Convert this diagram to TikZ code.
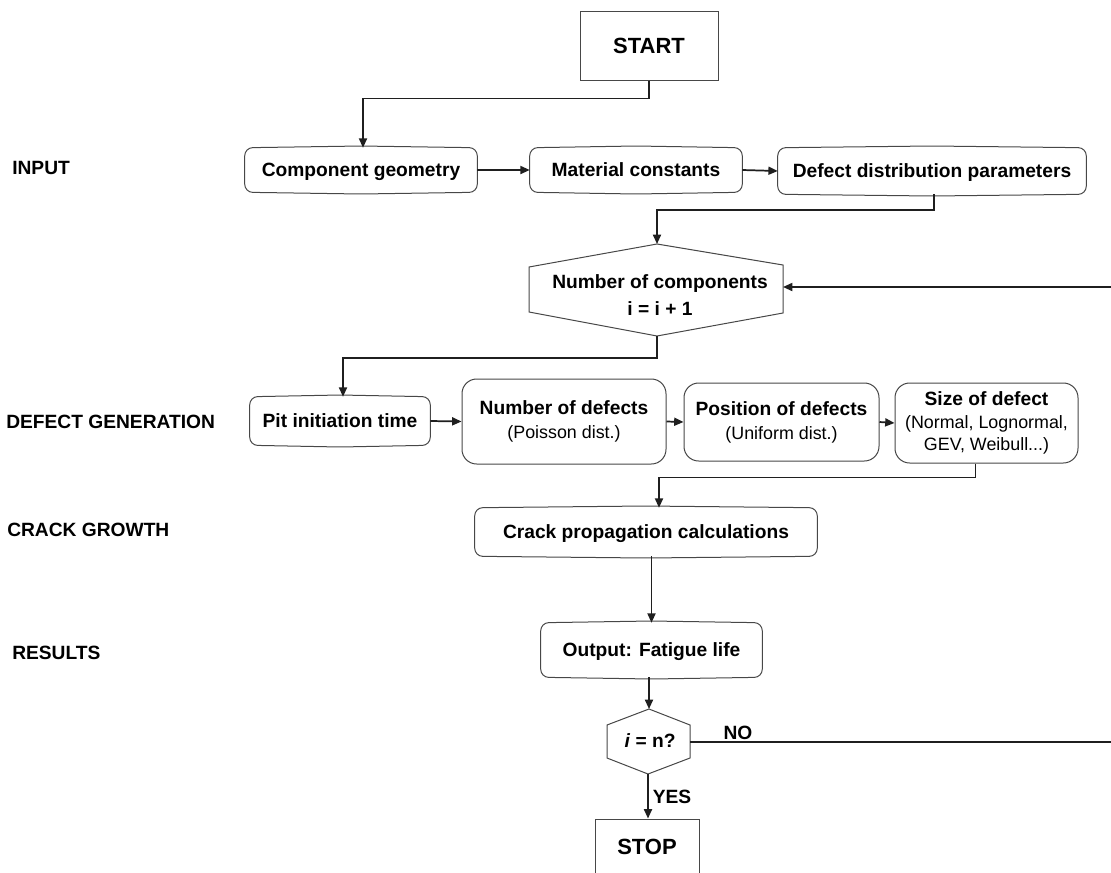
\documentclass[tikz,border=0pt]{standalone}
\usepackage{fontspec}
\setmainfont{Liberation Sans}
\usetikzlibrary{arrows.meta,calc}
\newcommand\capsuleoutline[1]{\draw[boxline, rounded corners=6pt] (#1.west) -- (#1.north west) -- ([yshift=1.3pt]#1.north) -- (#1.north east) -- (#1.south east) -- ([yshift=-1.3pt]#1.south) -- (#1.south west) -- cycle;}
\begin{document}
\begin{tikzpicture}[x=0.75pt,y=-0.75pt,
  every node/.style={inner sep=0pt, font=\fontsize{14.4}{17}\selectfont\bfseries},
  boxline/.style={draw=black!72, line width=0.75pt},
  bigtext/.style={font=\fontsize{16.5}{19}\selectfont\bfseries},
  capt/.style={text height=10.3pt, text depth=0pt},
  arr/.style={-{Triangle[length=7pt,width=6pt]}, line width=1.3pt, draw=black!88},
  lbl/.style={anchor=west}
]
\useasboundingbox (0,0) rectangle (1111,872);

% ---- section labels
\node[lbl] (linput) at (12,168) {INPUT};
\node[lbl] (ldefect) at (6,422) {DEFECT GENERATION};
\node[lbl] (lcrack) at (7,530) {CRACK GROWTH};
\node[lbl] (lresults) at (12,653) {RESULTS};

% ---- start
\node[boxline, bigtext, capt, text height=11.8pt, minimum width=138*0.75pt, minimum height=69*0.75pt] (start) at (649,45.5) {START};

% ---- input row
\node[capt, minimum width=232*0.75pt, minimum height=44*0.75pt] (cg) at (361,170) {Component geometry};
\capsuleoutline{cg}
\node[capt, minimum width=212*0.75pt, minimum height=44*0.75pt] (mc) at (636,170) {Material constants};
\capsuleoutline{mc}
\node[capt, minimum width=308*0.75pt, minimum height=46*0.75pt] (ddp) at (932,171) {Defect distribution parameters};
\capsuleoutline{ddp}

% ---- number of components hexagon
\coordinate (hT) at (657,244);
\coordinate (hUL) at (529,267);
\coordinate (hLL) at (529,312);
\coordinate (hB) at (657,336);
\coordinate (hLR) at (783,313);
\coordinate (hUR) at (783,265);
\coordinate (hR) at (783,287);
\draw[boxline] (hT) -- (hUL) -- (hLL) -- (hB) -- (hLR) -- (hUR) -- cycle;
\node[align=center] (hext) at (660,295) {Number of components\\[3.2pt] i = i + 1};

% ---- defect generation row
\node[capt, minimum width=180*0.75pt, minimum height=48*0.75pt] (pit) at (340,421) {Pit initiation time};
\capsuleoutline{pit}
\node[boxline, rounded corners=11pt, align=center, minimum width=204*0.75pt, minimum height=85*0.75pt] (nod) at (564,421.5)
  {Number of defects\\[1pt] {\fontsize{13.4}{16}\selectfont\mdseries (Poisson dist.)}};
\node[boxline, rounded corners=11pt, align=center, minimum width=195*0.75pt, minimum height=78*0.75pt] (pod) at (781.5,422)
  {Position of defects\\[1pt] {\fontsize{13.4}{16}\selectfont\mdseries (Uniform dist.)}};
\node[boxline, rounded corners=11pt, align=center, minimum width=183*0.75pt, minimum height=80*0.75pt] (sod) at (986.5,423)
  {Size of defect\\ {\fontsize{13.4}{16}\selectfont\mdseries (Normal, Lognormal,}\\ {\fontsize{13.4}{16}\selectfont\mdseries GEV, Weibull...)}};

% ---- crack growth
\node[capt, minimum width=342*0.75pt, minimum height=48*0.75pt] (cp) at (646,532) {Crack propagation calculations};
\capsuleoutline{cp}

% ---- results
\node[capt, minimum width=221*0.75pt, minimum height=54*0.75pt] (out) at (651.5,650) {Output: Fatigue life};
\capsuleoutline{out}

% ---- decision
\coordinate (dT) at (649,709);
\coordinate (dUL) at (607,725);
\coordinate (dLL) at (607,758);
\coordinate (dB) at (648,774);
\coordinate (dLR) at (690,758);
\coordinate (dUR) at (690,725);
\coordinate (dR) at (690,742);
\draw[boxline] (dT) -- (dUL) -- (dLL) -- (dB) -- (dLR) -- (dUR) -- cycle;
\node (dect) at (650,741) {\textit{i} = n?};

% ---- stop
\node[boxline, bigtext, capt, text height=11.8pt, minimum width=104*0.75pt, minimum height=56*0.75pt] (stop) at (647,847) {STOP};

% ---- loop-back coordinates (right edge)
\coordinate (eB) at (1114,742);
\coordinate (eT) at (1114,287);

% ---- connectors
\draw[arr] (start.south) -- ++(0,18) -| ($(cg.north)+(2,0)$);
\draw[arr] (cg.east) -- (mc.west);
\draw[arr] (mc.east) -- (ddp.west);
\draw[arr] ($(ddp.south)+(2,0)$) -- ++(0,16) -| (hT);
\draw[arr] (hB) -- ++(0,22) -| ($(pit.north)+(3,0)$);
\draw[arr] (pit.east) -- (nod.west);
\draw[arr] (nod.east) -- (pod.west);
\draw[arr] (pod.east) -- (sod.west);
\draw[arr] ($(sod.south)+(-11,0)$) -- ++(0,14) -| ($(cp.north)+(13,0)$);
\draw[arr] (cp.south -| out.north) -- (out.north);
\draw[arr] (out.south -| dT) -- (dT);
\draw[arr] (dB) -- (dB |- stop.north);
\draw[arr] (dR) -- (eB) -- (eT) -- (hR);

% ---- branch labels
\node (no) at (738,733) {NO};
\node (yes) at (672,797) {YES};
\end{tikzpicture}
\end{document}
